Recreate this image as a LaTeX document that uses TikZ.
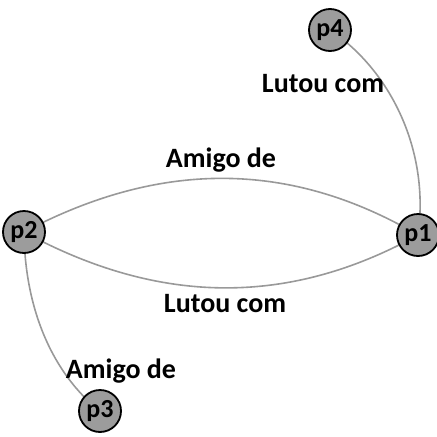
\documentclass[tikz,border=0pt]{standalone}
\usepackage{fontspec}
\setmainfont{Carlito}
\begin{document}
\begin{tikzpicture}[x=1pt,y=-1pt,
  pnode/.style={circle,draw=black,line width=1.8pt,fill=gray!78,minimum size=42pt,inner sep=0pt,font=\fontsize{26}{28}\selectfont\bfseries},
  edge/.style={draw=gray!80,line width=1.6pt},
  lbl/.style={font=\fontsize{28}{30}\selectfont\bfseries,inner sep=0pt}]
\useasboundingbox (0,0) rectangle (437,437);
\draw[edge] (330,30) .. controls (390,70) and (430,150) .. (418,235);
\draw[edge] (24,232) .. controls (160,160) and (290,160) .. (418,235);
\draw[edge] (24,232) .. controls (160,306) and (290,306) .. (418,235);
\draw[edge] (24,232) .. controls (25,320) and (60,380) .. (100,411);
\node[pnode] (p4) at (330,30) {p4};
\node[pnode] (p2) at (24,232) {p2};
\node[pnode] (p1) at (418,235) {p1};
\node[pnode] (p3) at (100,411) {p3};
\node[lbl] (l1) at (323,84) {Lutou com};
\node[lbl] (l2) at (221,160) {Amigo de};
\node[lbl] (l3) at (225,304) {Lutou com};
\node[lbl] (l4) at (121,371) {Amigo de};
\end{tikzpicture}
\end{document}
